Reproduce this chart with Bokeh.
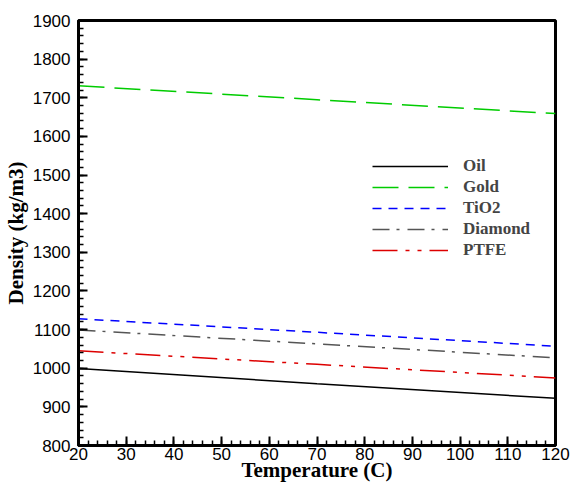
from bokeh.plotting import figure
from bokeh.models import Range1d, Legend, LegendItem, SingleIntervalTicker
from bokeh.embed import file_html
from bokeh.resources import INLINE

temperature = [20, 70, 120]
oil = [999, 960, 922]
gold = [1731, 1695, 1659]
tio2 = [1128, 1093, 1057]
diamond = [1099, 1063, 1027]
ptfe = [1045, 1010, 975]

series_names = ["Oil", "Gold", "TiO2", "Diamond", "PTFE"]

p = figure(width=573, height=484, output_backend="svg", toolbar_location=None,
           x_range=Range1d(20, 120), y_range=Range1d(800, 1900),
           min_border_left=76, min_border_right=18, min_border_top=20, min_border_bottom=38)

p.xgrid.visible = False
p.ygrid.visible = False
p.outline_line_color = "black"
p.outline_line_width = 3

styles = [
    dict(color="black", dash="solid"),
    dict(color="#00cc00", dash="26 10"),
    dict(color="#0000ff", dash="9 7"),
    dict(color="#555555", dash="17 7 3 8"),
    dict(color="#dd0000", dash="25 8 4 8 4 8"),
]
data = [oil, gold, tio2, diamond, ptfe]
items = []
for name, ys, st in zip(series_names, data, styles):
    r = p.line(temperature, ys, line_color=st["color"], line_dash=st["dash"], line_width=1.5)
    items.append(LegendItem(label=name, renderers=[r]))

legend = Legend(items=items, location=(294, 185), border_line_color=None,
                background_fill_alpha=0, glyph_width=76, glyph_height=14,
                label_text_font="Liberation Serif", label_text_font_style="bold",
                label_text_font_size="17px", spacing=1, padding=4, margin=0,
                label_standoff=15)
p.add_layout(legend, "center")

p.xaxis.ticker = SingleIntervalTicker(interval=10, num_minor_ticks=5)
p.yaxis.ticker = SingleIntervalTicker(interval=100, num_minor_ticks=5)

for ax in (p.xaxis[0], p.yaxis[0]):
    ax.axis_line_width = 3
    ax.major_tick_in = 9
    ax.major_tick_out = 0
    ax.minor_tick_in = 5
    ax.minor_tick_out = 0
    ax.major_tick_line_width = 2
    ax.minor_tick_line_width = 1.5
    ax.major_label_text_font = "Liberation Sans"
    ax.major_label_text_font_size = "17px"
    ax.major_label_text_color = "black"
    ax.axis_label_text_font = "Liberation Serif"
    ax.axis_label_text_font_style = "bold"
    ax.axis_label_text_font_size = "21px"
    ax.axis_label_text_color = "black"

p.xaxis.axis_label = "Temperature (C)"
p.yaxis.axis_label = "Density (kg/m3)"
p.xaxis.axis_label_standoff = -5
p.yaxis.axis_label_standoff = 2
p.xaxis.major_label_standoff = 2
p.yaxis.major_label_standoff = 8

open("out.html", "w").write(file_html(p, INLINE))
